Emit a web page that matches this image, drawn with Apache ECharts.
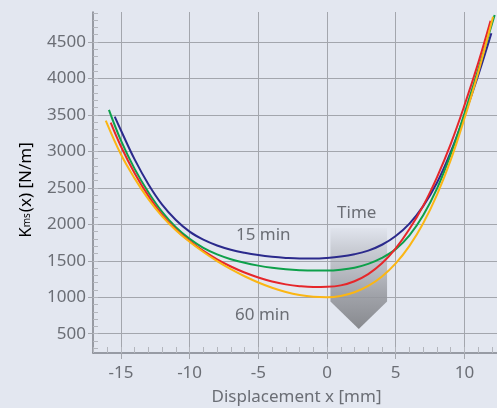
<!DOCTYPE html>
<html><head><meta charset="utf-8">
<script src="https://cdn.jsdelivr.net/npm/echarts@6/dist/echarts.min.js"></script>
<style>html,body{margin:0;padding:0;background:#e3e7f0;}#c{width:497px;height:408px;}</style>
</head><body><div id="c"></div>
<script>
// ---- data ----
const xTickLabels = [-15, -10, -5, 0, 5, 10];
const yTickLabels = [500, 1000, 1500, 2000, 2500, 3000, 3500, 4000, 4500];
const seriesNames = ['15 min', '30 min', '45 min', '60 min'];
const curve15 = [[-15.45,3477],[-15,3290],[-14,2890],[-13,2550],[-12,2270],[-11,2060],[-10,1900],[-9,1790],[-8,1710],[-7,1652],[-6,1610],[-5,1578],[-4,1555],[-3,1540],[-2,1532],[-1,1532],[0,1540],[1,1558],[2,1590],[3,1640],[4,1720],[5,1840],[6,2010],[7,2250],[8,2570],[9,2990],[10,3490],[11,4040],[11.96,4619]];
const curve30 = [[-15.87,3568],[-15,3150],[-14,2760],[-13,2440],[-12,2170],[-11,1960],[-10,1800],[-9,1678],[-8,1588],[-7,1522],[-6,1472],[-5,1434],[-4,1405],[-3,1385],[-2,1372],[-1,1366],[0,1366],[1,1378],[2,1406],[3,1458],[4,1540],[5,1660],[6,1850],[7,2125],[8,2490],[9,2960],[10,3520],[11,4120],[12.2,4870]];
const curve45 = [[-15.74,3394],[-15,3070],[-14,2700],[-13,2390],[-12,2130],[-11,1930],[-10,1770],[-9,1635],[-8,1520],[-7,1422],[-6,1340],[-5,1272],[-4,1217],[-3,1177],[-2,1152],[-1,1140],[0,1143],[1,1163],[2,1220],[3,1318],[4,1465],[5,1670],[6,1935],[7,2255],[8,2645],[9,3100],[10,3630],[11,4210],[11.9,4790]];
const curve60 = [[-16.1,3422],[-15,2960],[-14,2630],[-13,2345],[-12,2110],[-11,1920],[-10,1760],[-9,1620],[-8,1495],[-7,1385],[-6,1288],[-5,1203],[-4,1131],[-3,1073],[-2,1031],[-1,1006],[0,1000],[1,1018],[2,1068],[3,1155],[4,1285],[5,1465],[6,1705],[7,2015],[8,2405],[9,2880],[10,3450],[11,4080],[12.08,4846]];
const curveColors = ['#2b2a8c', '#0ea04b', '#e6262a', '#fbb614'];
const xRange = [-17.03, 12.37];
const yRange = [236, 4911];
const xMinorTicks = []; for (let v = -17; v <= 12; v++) xMinorTicks.push(v);
const yMinorTicks = []; for (let v = 300; v <= 4900; v += 100) yMinorTicks.push(v);

const textColor = '#6b6e75';
const gridColor = '#a3a6ad';
const axisColor = '#7f828a';
const minorColor = '#b3b6bd';
const font = 'Noto Sans';

const chart = echarts.init(document.getElementById('c'), null, {renderer: 'canvas'});
const curves = [curve15, curve30, curve45, curve60];
const option = {
  animation: false,
  backgroundColor: '#e3e7f0',
  grid: {left: 93, top: 12, right: 0, bottom: 55, containLabel: false},
  xAxis: [{
    type: 'value', min: xRange[0], max: xRange[1], position: 'bottom',
    axisLine: {show: true, onZero: false, lineStyle: {color: axisColor, width: 1.5}},
    axisTick: {show: true, customValues: xTickLabels, length: 6, lineStyle: {color: gridColor}},
    axisLabel: {customValues: xTickLabels, formatter: v => String(v), color: textColor, fontSize: 17, fontFamily: font, margin: 12},
    splitLine: {show: true, lineStyle: {color: gridColor, width: 1}}
  }, {
    type: 'value', min: xRange[0], max: xRange[1], position: 'bottom', offset: 0,
    axisLine: {show: false, onZero: false},
    axisTick: {show: true, inside: true, customValues: xMinorTicks, length: 6, lineStyle: {color: minorColor}},
    axisLabel: {show: false},
    splitLine: {show: false}
  }],
  yAxis: [{
    type: 'value', min: yRange[0], max: yRange[1], position: 'left',
    axisLine: {show: true, onZero: false, lineStyle: {color: axisColor, width: 1.5}},
    axisTick: {show: true, customValues: yTickLabels, length: 5, lineStyle: {color: gridColor}},
    axisLabel: {customValues: yTickLabels, formatter: v => String(v), color: textColor, fontSize: 17, fontFamily: font, margin: 7},
    splitLine: {show: true, lineStyle: {color: gridColor, width: 1}}
  }, {
    type: 'value', min: yRange[0], max: yRange[1], position: 'left', offset: 0,
    axisLine: {show: false, onZero: false},
    axisTick: {show: true, inside: true, customValues: yMinorTicks, length: 5, lineStyle: {color: minorColor}},
    axisLabel: {show: false},
    splitLine: {show: false}
  }],
  series: curves.map((d, i) => ({
    name: seriesNames[i], type: 'line', xAxisIndex: 0, yAxisIndex: 0,
    data: d, smooth: 0.4, symbol: 'none', showSymbol: false, z: 3,
    lineStyle: {color: curveColors[i], width: 2}
  }))
};
chart.setOption(option);

const P = (x, y) => chart.convertToPixel({xAxisIndex: 0, yAxisIndex: 0}, [x, y]);
const arrowTop = 1948, arrowShoulder = 942, arrowTip = 564, arrowLeft = 0.25, arrowRight = 4.37;
const pts = [P(arrowLeft, arrowTop), P(arrowRight, arrowTop), P(arrowRight, arrowShoulder),
  P((arrowLeft + arrowRight) / 2, arrowTip), P(arrowLeft, arrowShoulder)];
const t15 = P(-4.64, 1856), t60 = P(-4.7, 760), tTime = P(2.16, 2158);
chart.setOption({
  graphic: [
    {type: 'polygon', z: 1, silent: true, shape: {points: pts},
     style: {fill: {type: 'linear', x: 0, y: 0, x2: 0, y2: 1, colorStops: [
       {offset: 0, color: 'rgba(165,167,173,0.05)'},
       {offset: 0.2, color: 'rgba(165,167,173,0.4)'},
       {offset: 0.65, color: 'rgba(150,152,158,0.85)'},
       {offset: 1, color: 'rgba(135,137,142,1)'}]}}},
    {type: 'text', x: t15[0], y: t15[1], z: 5, style: {text: '15 min', fill: textColor, font: '17px "Noto Sans"', align: 'center', verticalAlign: 'middle'}},
    {type: 'text', x: t60[0], y: t60[1], z: 5, style: {text: '60 min', fill: textColor, font: '17px "Noto Sans"', align: 'center', verticalAlign: 'middle'}},
    {type: 'text', x: tTime[0], y: tTime[1], z: 5, style: {text: 'Time', fill: textColor, font: '17px "Noto Sans"', align: 'center', verticalAlign: 'middle'}},
    {type: 'text', x: 296.5, y: 397, z: 5, style: {text: 'Displacement x [mm]', fill: textColor, font: '17px "Noto Sans"', align: 'center', verticalAlign: 'middle'}},
    {type: 'text', x: 25, y: 190, rotation: Math.PI / 2, z: 5, style: {
      text: '{a|K}{s|ms}{a|(x) [N/m]}', align: 'center', verticalAlign: 'middle',
      rich: {
        a: {fontSize: 17, fontFamily: font, color: textColor, lineHeight: 20, verticalAlign: 'bottom'},
        s: {fontSize: 10, fontFamily: font, color: textColor, lineHeight: 10, verticalAlign: 'bottom', padding: [0, 1, 3, 0]}
      }}}
  ]
});
</script>
</body></html>
